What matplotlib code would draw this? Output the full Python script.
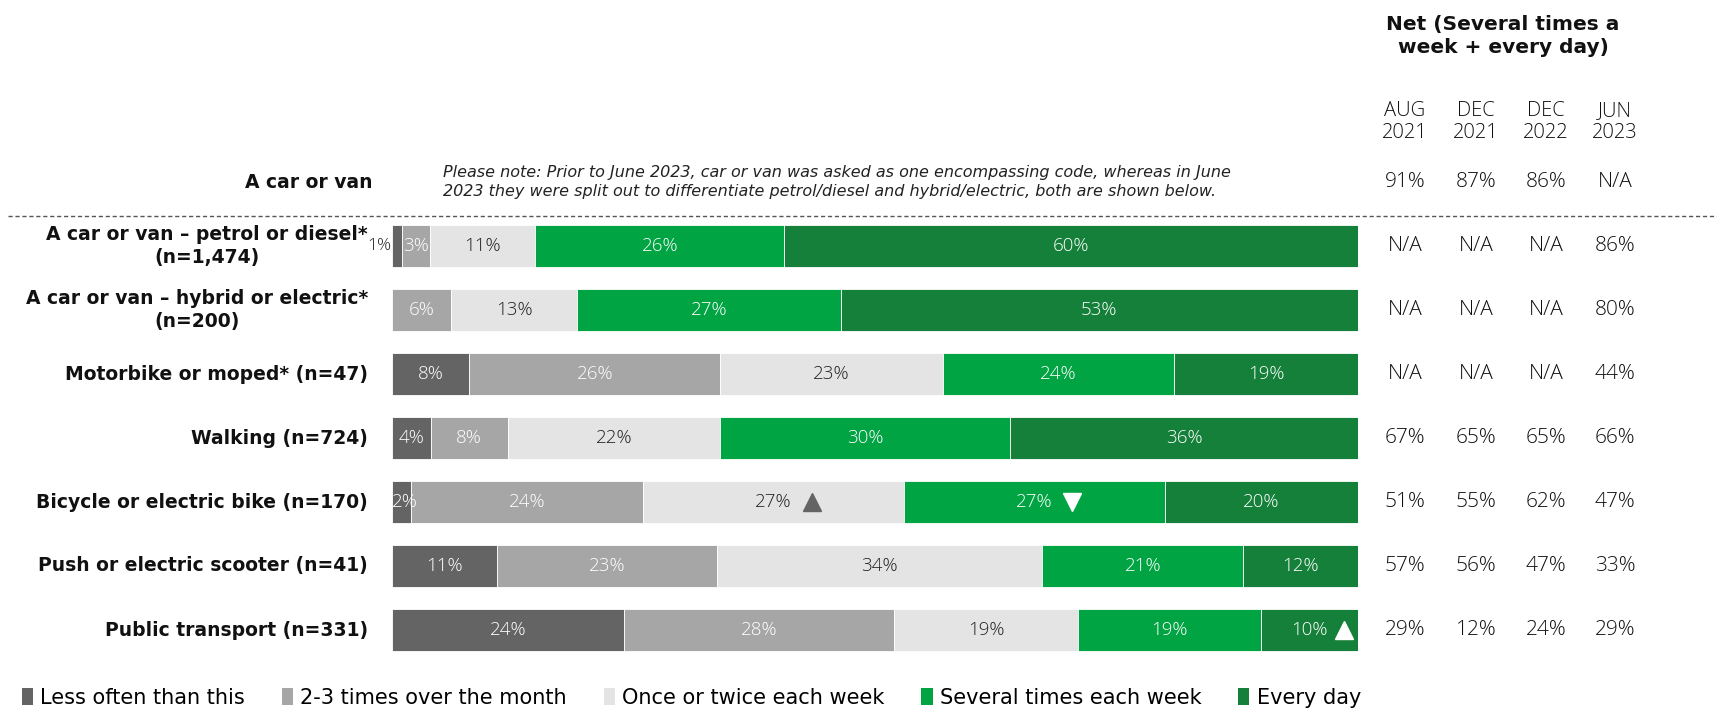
import numpy as np
import matplotlib
matplotlib.use("Agg")
import matplotlib.pyplot as plt
from matplotlib.transforms import blended_transform_factory, offset_copy
from matplotlib.lines import Line2D
from matplotlib.patches import Patch

plt.rcParams['font.family'] = ['Open Sans', 'DejaVu Sans']

# data
rows = ["A car or van – petrol or diesel*\n(n=1,474)",
        "A car or van – hybrid or electric*\n(n=200)",
        "Motorbike or moped* (n=47)",
        "Walking (n=724)",
        "Bicycle or electric bike (n=170)",
        "Push or electric scooter (n=41)",
        "Public transport (n=331)"]
series = ["Less often than this", "2-3 times over the month", "Once or twice each week",
          "Several times each week", "Every day"]
less_often = [1, 0, 8, 4, 2, 11, 24]
two_three = [3, 6, 26, 8, 24, 23, 28]
once_twice = [11, 13, 23, 22, 27, 34, 19]
several = [26, 27, 24, 30, 27, 21, 19]
every_day = [60, 53, 19, 36, 20, 12, 10]

net_cols = ["AUG\n2021", "DEC\n2021", "DEC\n2022", "JUN\n2023"]
net_car_van = ["91%", "87%", "86%", "N/A"]
net_values = [["N/A", "N/A", "N/A", "86%"],
              ["N/A", "N/A", "N/A", "80%"],
              ["N/A", "N/A", "N/A", "44%"],
              ["67%", "65%", "65%", "66%"],
              ["51%", "55%", "62%", "47%"],
              ["57%", "56%", "47%", "33%"],
              ["29%", "12%", "24%", "29%"]]
# significance arrows: (row, series, direction)
sig_marks = [(4, 2, "up"), (4, 3, "down"), (6, 4, "up")]

colors = ["#646464", "#a6a6a6", "#e4e4e4", "#00a443", "#15803a"]
text_colors = ["white", "white", "#222222", "white", "white"]
mark_colors = {2: "#646464", 3: "white", 4: "white"}

BOLD = ["DejaVu Sans"]
W, H = 1717, 709
fig = plt.figure(figsize=(W / 100, H / 100), dpi=100)
ax = fig.add_axes([392 / W, (H - 662) / H, (1358 - 392) / W, 512 / H])
ax.set_xlim(0, 100)
ax.set_ylim(6.5, -1.5)
ax.axis("off")

data = np.array([less_often, two_three, once_twice, several, every_day], dtype=float)
totals = data.sum(axis=0)
scaled = data / totals * 100
y = np.arange(len(rows))
left = np.zeros(len(rows))
for k in range(5):
    ax.barh(y, scaled[k], left=left, height=0.65, color=colors[k], edgecolor="white", linewidth=0.6)
    for i in range(len(rows)):
        v = data[k, i]
        if v == 0:
            continue
        cx = left[i] + scaled[k, i] / 2
        lab = f"{int(v)}%"
        if k == 0 and v <= 1:
            ax.text(left[i] - 0.05, y[i], lab, ha="right", va="center", fontsize=12.5,
                    color="#222222", fontweight="light")
        elif v <= 2:
            ax.text(left[i], y[i], lab, ha="left", va="center", fontsize=13.5,
                    color=text_colors[k], fontweight="light")
        else:
            ax.text(cx, y[i], lab, ha="center", va="center", fontsize=13.5,
                    color=text_colors[k], fontweight="light")
    left = left + scaled[k]

# significance markers
lefts = np.vstack([np.zeros(len(rows)), np.cumsum(scaled, axis=0)[:-1]])
for r, k, d in sig_marks:
    cx = lefts[k, r] + scaled[k, r] / 2
    off = 38 if k < 4 else 34
    tr = offset_copy(ax.transData, fig=fig, x=off, y=0, units="dots")
    ax.plot([cx], [r], marker="^" if d == "up" else "v", markersize=12.5,
            color=mark_colors[k], transform=tr, clip_on=False, linestyle="none")

# row labels
trf = blended_transform_factory(fig.transFigure, ax.transData)
for i, name in enumerate(rows):
    ax.text(368 / W, y[i], name, transform=trf, ha="right", va="center",
            multialignment="center", fontsize=13.5, fontweight="bold", color="#111111",
            linespacing=1.2, family=BOLD)
ax.text(372 / W, -1, "A car or van", transform=trf, ha="right", va="center",
        fontsize=13.5, fontweight="bold", color="#111111", family=BOLD)
ax.text(443 / W, -1, "Please note: Prior to June 2023, car or van was asked as one encompassing code, whereas in June\n"
        "2023 they were split out to differentiate petrol/diesel and hybrid/electric, both are shown below.",
        transform=trf, ha="left", va="center", fontsize=11.5, style="italic", color="#222222",
        linespacing=1.35, family=BOLD)

# dashed separator
ax.add_line(Line2D([8 / W, 1.0], [-0.47, -0.47], transform=trf, color="#555555",
                   linestyle=(0, (3, 2)), linewidth=1.0, clip_on=False))

# net columns
net_x = [1405, 1476, 1546, 1615]
for j, col in enumerate(net_cols):
    fig.text(net_x[j] / W, (H - 122) / H, col, ha="center", va="center", fontsize=14.5,
             fontweight="light", color="#111111", linespacing=1.1)
    ax.text(net_x[j] / W, -1, net_car_van[j], transform=trf, ha="center", va="center",
            fontsize=15, fontweight="light", color="#111111")
    for i in range(len(rows)):
        ax.text(net_x[j] / W, y[i], net_values[i][j], transform=trf, ha="center", va="center",
                fontsize=15, fontweight="light", color="#111111")
fig.text(1503 / W, (H - 36) / H, "Net (Several times a\nweek + every day)", ha="center", va="center",
         fontsize=14.5, fontweight="bold", color="#111111", linespacing=1.25, family=BOLD)

# legend
handles = [Patch(facecolor=c, edgecolor="none") for c in colors]
leg = fig.legend(handles, series, loc="center left", bbox_to_anchor=(3 / W, (H - 698) / H),
                 ncol=5, frameon=False, handlelength=0.55, handleheight=0.9,
                 handletextpad=0.35, columnspacing=1.75,
                 prop={"family": ["Liberation Sans Narrow", "DejaVu Sans"], "size": 15})

fig.savefig("out.png", dpi=100)
